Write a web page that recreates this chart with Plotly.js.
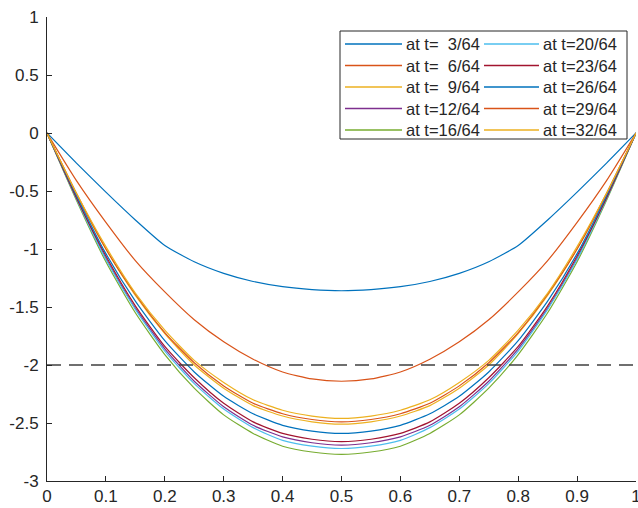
<!DOCTYPE html>
<html>
<head>
<meta charset="utf-8">
<script src="https://cdn.plot.ly/plotly-3.0.1.min.js"></script>
<style>html,body{margin:0;padding:0;background:#fff;}#chart{width:638px;height:508px;}</style>
</head>
<body>
<div id="chart"></div>
<script>
// x positions
const xs = [0,0.05,0.1,0.15,0.2,0.25,0.3,0.35,0.4,0.45,0.5,0.55,0.6,0.65,0.7,0.75,0.8,0.85,0.9,0.95,1];
// series values
const t3  = [0,-0.26,-0.51,-0.75,-0.97,-1.11,-1.21,-1.28,-1.325,-1.35,-1.36,-1.35,-1.325,-1.28,-1.21,-1.11,-0.97,-0.75,-0.51,-0.26,0];
const t6  = [0,-0.41,-0.77,-1.10,-1.37,-1.61,-1.80,-1.95,-2.06,-2.12,-2.14,-2.12,-2.06,-1.95,-1.80,-1.61,-1.37,-1.10,-0.77,-0.41,0];
const t9  = [0,-0.53,-1.00,-1.40,-1.73,-2.00,-2.20,-2.35,-2.44,-2.49,-2.51,-2.49,-2.44,-2.35,-2.20,-2.00,-1.73,-1.40,-1.00,-0.53,0];
const t12 = [0,-0.56,-1.08,-1.51,-1.86,-2.14,-2.36,-2.52,-2.62,-2.67,-2.69,-2.67,-2.62,-2.52,-2.36,-2.14,-1.86,-1.51,-1.08,-0.56,0];
const t16 = [0,-0.58,-1.11,-1.55,-1.91,-2.20,-2.43,-2.59,-2.70,-2.75,-2.77,-2.75,-2.70,-2.59,-2.43,-2.20,-1.91,-1.55,-1.11,-0.58,0];
const t20 = [0,-0.57,-1.09,-1.52,-1.88,-2.16,-2.38,-2.54,-2.65,-2.70,-2.72,-2.70,-2.65,-2.54,-2.38,-2.16,-1.88,-1.52,-1.09,-0.57,0];
const t23 = [0,-0.56,-1.06,-1.49,-1.84,-2.11,-2.33,-2.49,-2.59,-2.64,-2.66,-2.64,-2.59,-2.49,-2.33,-2.11,-1.84,-1.49,-1.06,-0.56,0];
const t26 = [0,-0.54,-1.04,-1.45,-1.79,-2.06,-2.27,-2.42,-2.52,-2.57,-2.59,-2.57,-2.52,-2.42,-2.27,-2.06,-1.79,-1.45,-1.04,-0.54,0];
const t29 = [0,-0.52,-1.00,-1.39,-1.72,-1.98,-2.18,-2.33,-2.42,-2.47,-2.49,-2.47,-2.42,-2.33,-2.18,-1.98,-1.72,-1.39,-1.00,-0.52,0];
const t32 = [0,-0.52,-0.98,-1.38,-1.70,-1.96,-2.15,-2.30,-2.39,-2.44,-2.46,-2.44,-2.39,-2.30,-2.15,-1.96,-1.70,-1.38,-0.98,-0.52,0];
const refX = [0,1];
const refY = [-2,-2];
const labels = ['at t=\u20073/64','at t=\u20076/64','at t=\u20079/64','at t=12/64','at t=16/64',
                'at t=20/64','at t=23/64','at t=26/64','at t=29/64','at t=32/64'];
const series = [t3,t6,t9,t12,t16,t20,t23,t26,t29,t32];
const colors = ['#0072BD','#D95319','#EDB120','#7E2F8E','#77AC30','#4DBEEE','#A2142F','#0072BD','#D95319','#EDB120'];
const xTicks = [0,0.1,0.2,0.3,0.4,0.5,0.6,0.7,0.8,0.9,1];
const xTickText = ['0','0.1','0.2','0.3','0.4','0.5','0.6','0.7','0.8','0.9','1'];
const yTicks = [1,0.5,0,-0.5,-1,-1.5,-2,-2.5,-3];
const yTickText = ['1','0.5','0','-0.5','-1','-1.5','-2','-2.5','-3'];

const traces = series.map((ys,i)=>({
  x: xs, y: ys, type:'scatter', mode:'lines', name: labels[i], showlegend:false,
  line:{color:colors[i], width:1.2, shape:'spline', smoothing:0.6}
}));
traces.push({x:refX, y:refY, type:'scatter', mode:'lines', showlegend:false,
  line:{color:'#404040', width:1.6, dash:'14px,8px'}});

// manual legend (pixel geometry -> paper coords)
const W=638,H=508,L=47,R=2,T=17,B=27;
const pw=W-L-R, ph=H-T-B;
const px=v=>(v-L)/pw, py=v=>1-(v-T)/ph;
const shapes=[], annotations=[];
shapes.push({type:'rect', xref:'paper', yref:'paper', x0:px(340), x1:px(627), y0:py(31), y1:py(139),
  line:{color:'#262626', width:1}, fillcolor:'#ffffff', layer:'above'});
const rowY=[44,65.5,87,108.5,130];
const colLine=[[345,402],[484,539]];
const colText=[405,542];
const lfont={family:'Liberation Sans, Arial, sans-serif', size:16.5, color:'#262626'};
labels.forEach((lab,i)=>{
  const c=Math.floor(i/5), r=i%5;
  shapes.push({type:'line', xref:'paper', yref:'paper', x0:px(colLine[c][0]), x1:px(colLine[c][1]),
    y0:py(rowY[r]), y1:py(rowY[r]), line:{color:colors[i], width:1.5}, layer:'above'});
  annotations.push({xref:'paper', yref:'paper', x:px(colText[c]), y:py(rowY[r]), text:lab,
    showarrow:false, xanchor:'left', yanchor:'middle', font:lfont, borderpad:0});
});

const font = {family:'Liberation Sans, Arial, sans-serif', size:17, color:'#262626'};
const layout = {
  width:W, height:H,
  margin:{l:L, r:R, t:T, b:B, pad:0},
  paper_bgcolor:'#fff', plot_bgcolor:'#fff',
  font: font, showlegend:false,
  shapes:shapes, annotations:annotations,
  xaxis:{range:[0,1], tickvals:xTicks, ticktext:xTickText, ticks:'inside', ticklen:5,
    tickcolor:'#262626', showline:true, linecolor:'#262626', linewidth:1, mirror:false,
    showgrid:false, zeroline:false, tickfont:font, fixedrange:true, ticklabeloverflow:'allow'},
  yaxis:{range:[-3,1], tickvals:yTicks, ticktext:yTickText, ticks:'inside', ticklen:5,
    tickcolor:'#262626', showline:true, linecolor:'#262626', linewidth:1, mirror:false,
    showgrid:false, zeroline:false, tickfont:font, fixedrange:true, ticklabeloverflow:'allow',
    ticklabelstandoff:4}
};
Plotly.newPlot('chart', traces, layout, {staticPlot:true, displayModeBar:false});
</script>
</body>
</html>
